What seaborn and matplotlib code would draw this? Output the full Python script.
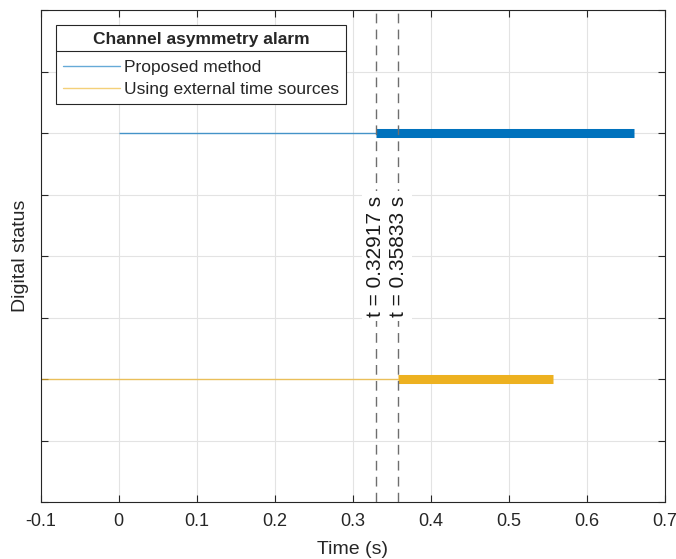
import matplotlib
matplotlib.use("Agg")
import matplotlib.pyplot as plt
import seaborn as sns
import pandas as pd
from matplotlib.lines import Line2D

# Data
t_proposed = 0.32917
t_external = 0.35833
proposed_thin_x = [0.0, 0.32917]
proposed_thick_x = [0.32917, 0.66]
proposed_level = [6, 6]
external_thin_x = [-0.1, 0.35833]
external_thick_x = [0.35833, 0.557]
external_level = [2, 2]
series_names = ["Proposed method", "Using external time sources"]
xticks = [-0.1, 0, 0.1, 0.2, 0.3, 0.4, 0.5, 0.6, 0.7]
xticklabels = ["-0.1", "0", "0.1", "0.2", "0.3", "0.4", "0.5", "0.6", "0.7"]

sns.set_style("white")
plt.rcParams['font.family'] = ['Liberation Sans', 'DejaVu Sans']

BLUE = "#0072BD"
ORANGE = "#EDB120"

fig = plt.figure(figsize=(6.76, 5.59), dpi=100)
ax = fig.add_axes([40.5/676, (559-502)/559, (665-40.5)/676, (502-10)/559])

sns.lineplot(x=proposed_thin_x, y=proposed_level, ax=ax, color=BLUE, lw=1.0, alpha=0.7, solid_capstyle='butt')
sns.lineplot(x=proposed_thick_x, y=proposed_level, ax=ax, color=BLUE, lw=6.5, solid_capstyle='butt')
sns.lineplot(x=external_thin_x, y=external_level, ax=ax, color=ORANGE, lw=1.0, alpha=0.7, solid_capstyle='butt')
sns.lineplot(x=external_thick_x, y=external_level, ax=ax, color=ORANGE, lw=6.5, solid_capstyle='butt')

for tv in (t_proposed, t_external):
    ax.axvline(tv, color="#6e6e6e", lw=1.0, ls=(0, (7, 4.5)), zorder=3)
    ax.text(tv, 4, f"t = {tv:.5f} s", rotation=90, ha='center', va='center',
            fontsize=15, color="#1a1a1a", zorder=10,
            bbox=dict(facecolor='white', edgecolor='none', pad=3))

ax.set_xlim(-0.1, 0.7)
ax.set_ylim(0, 8)
ax.set_xticks(xticks)
ax.set_xticklabels(xticklabels, fontsize=13, color="#262626")
ax.set_yticks(range(0, 9))
ax.set_yticklabels([])
ax.grid(True, color="#e3e3e3", lw=0.8)
ax.set_axisbelow(True)
ax.tick_params(direction='in', top=True, right=True, bottom=True, left=True,
               length=5, width=0.8, color="#262626", pad=8)
for s in ax.spines.values():
    s.set_color("#262626")
    s.set_linewidth(0.8)
ax.set_xlabel("Time (s)", fontsize=14, color="#262626")
ax.set_ylabel("Digital status", fontsize=14, color="#262626")
ax.xaxis.set_label_coords(0.5, (502 - 541) / 492)
ax.yaxis.set_label_coords((29 - 40.5) / 624.5, 0.5)

handles = [Line2D([], [], color=BLUE, lw=1.0, alpha=0.6),
           Line2D([], [], color=ORANGE, lw=1.0, alpha=0.6)]
leg = ax.legend(handles, series_names, title="Channel asymmetry alarm",
                loc='upper left', bbox_to_anchor=(0.025, 0.969),
                fontsize=12.5, title_fontproperties={'weight': 'bold', 'size': 12.5},
                frameon=True, fancybox=False, edgecolor="#262626", framealpha=1,
                handlelength=3.3, handletextpad=0.2, borderpad=0.4,
                labelspacing=0.38, borderaxespad=0)
leg.get_frame().set_linewidth(0.8)
leg.set_zorder(20)
leg._legend_box.sep = 9

fig.canvas.draw()
fb = leg.get_frame().get_window_extent()
tb = leg.get_title().get_window_extent()
ysep = tb.y0 - 4
inv = fig.transFigure.inverted()
(x0, y0) = inv.transform((fb.x0, ysep))
(x1, _) = inv.transform((fb.x1, ysep))
fig.add_artist(Line2D([x0, x1], [y0, y0], transform=fig.transFigure, color="#262626", lw=0.8, zorder=30))

fig.savefig("out.png", dpi=100)
